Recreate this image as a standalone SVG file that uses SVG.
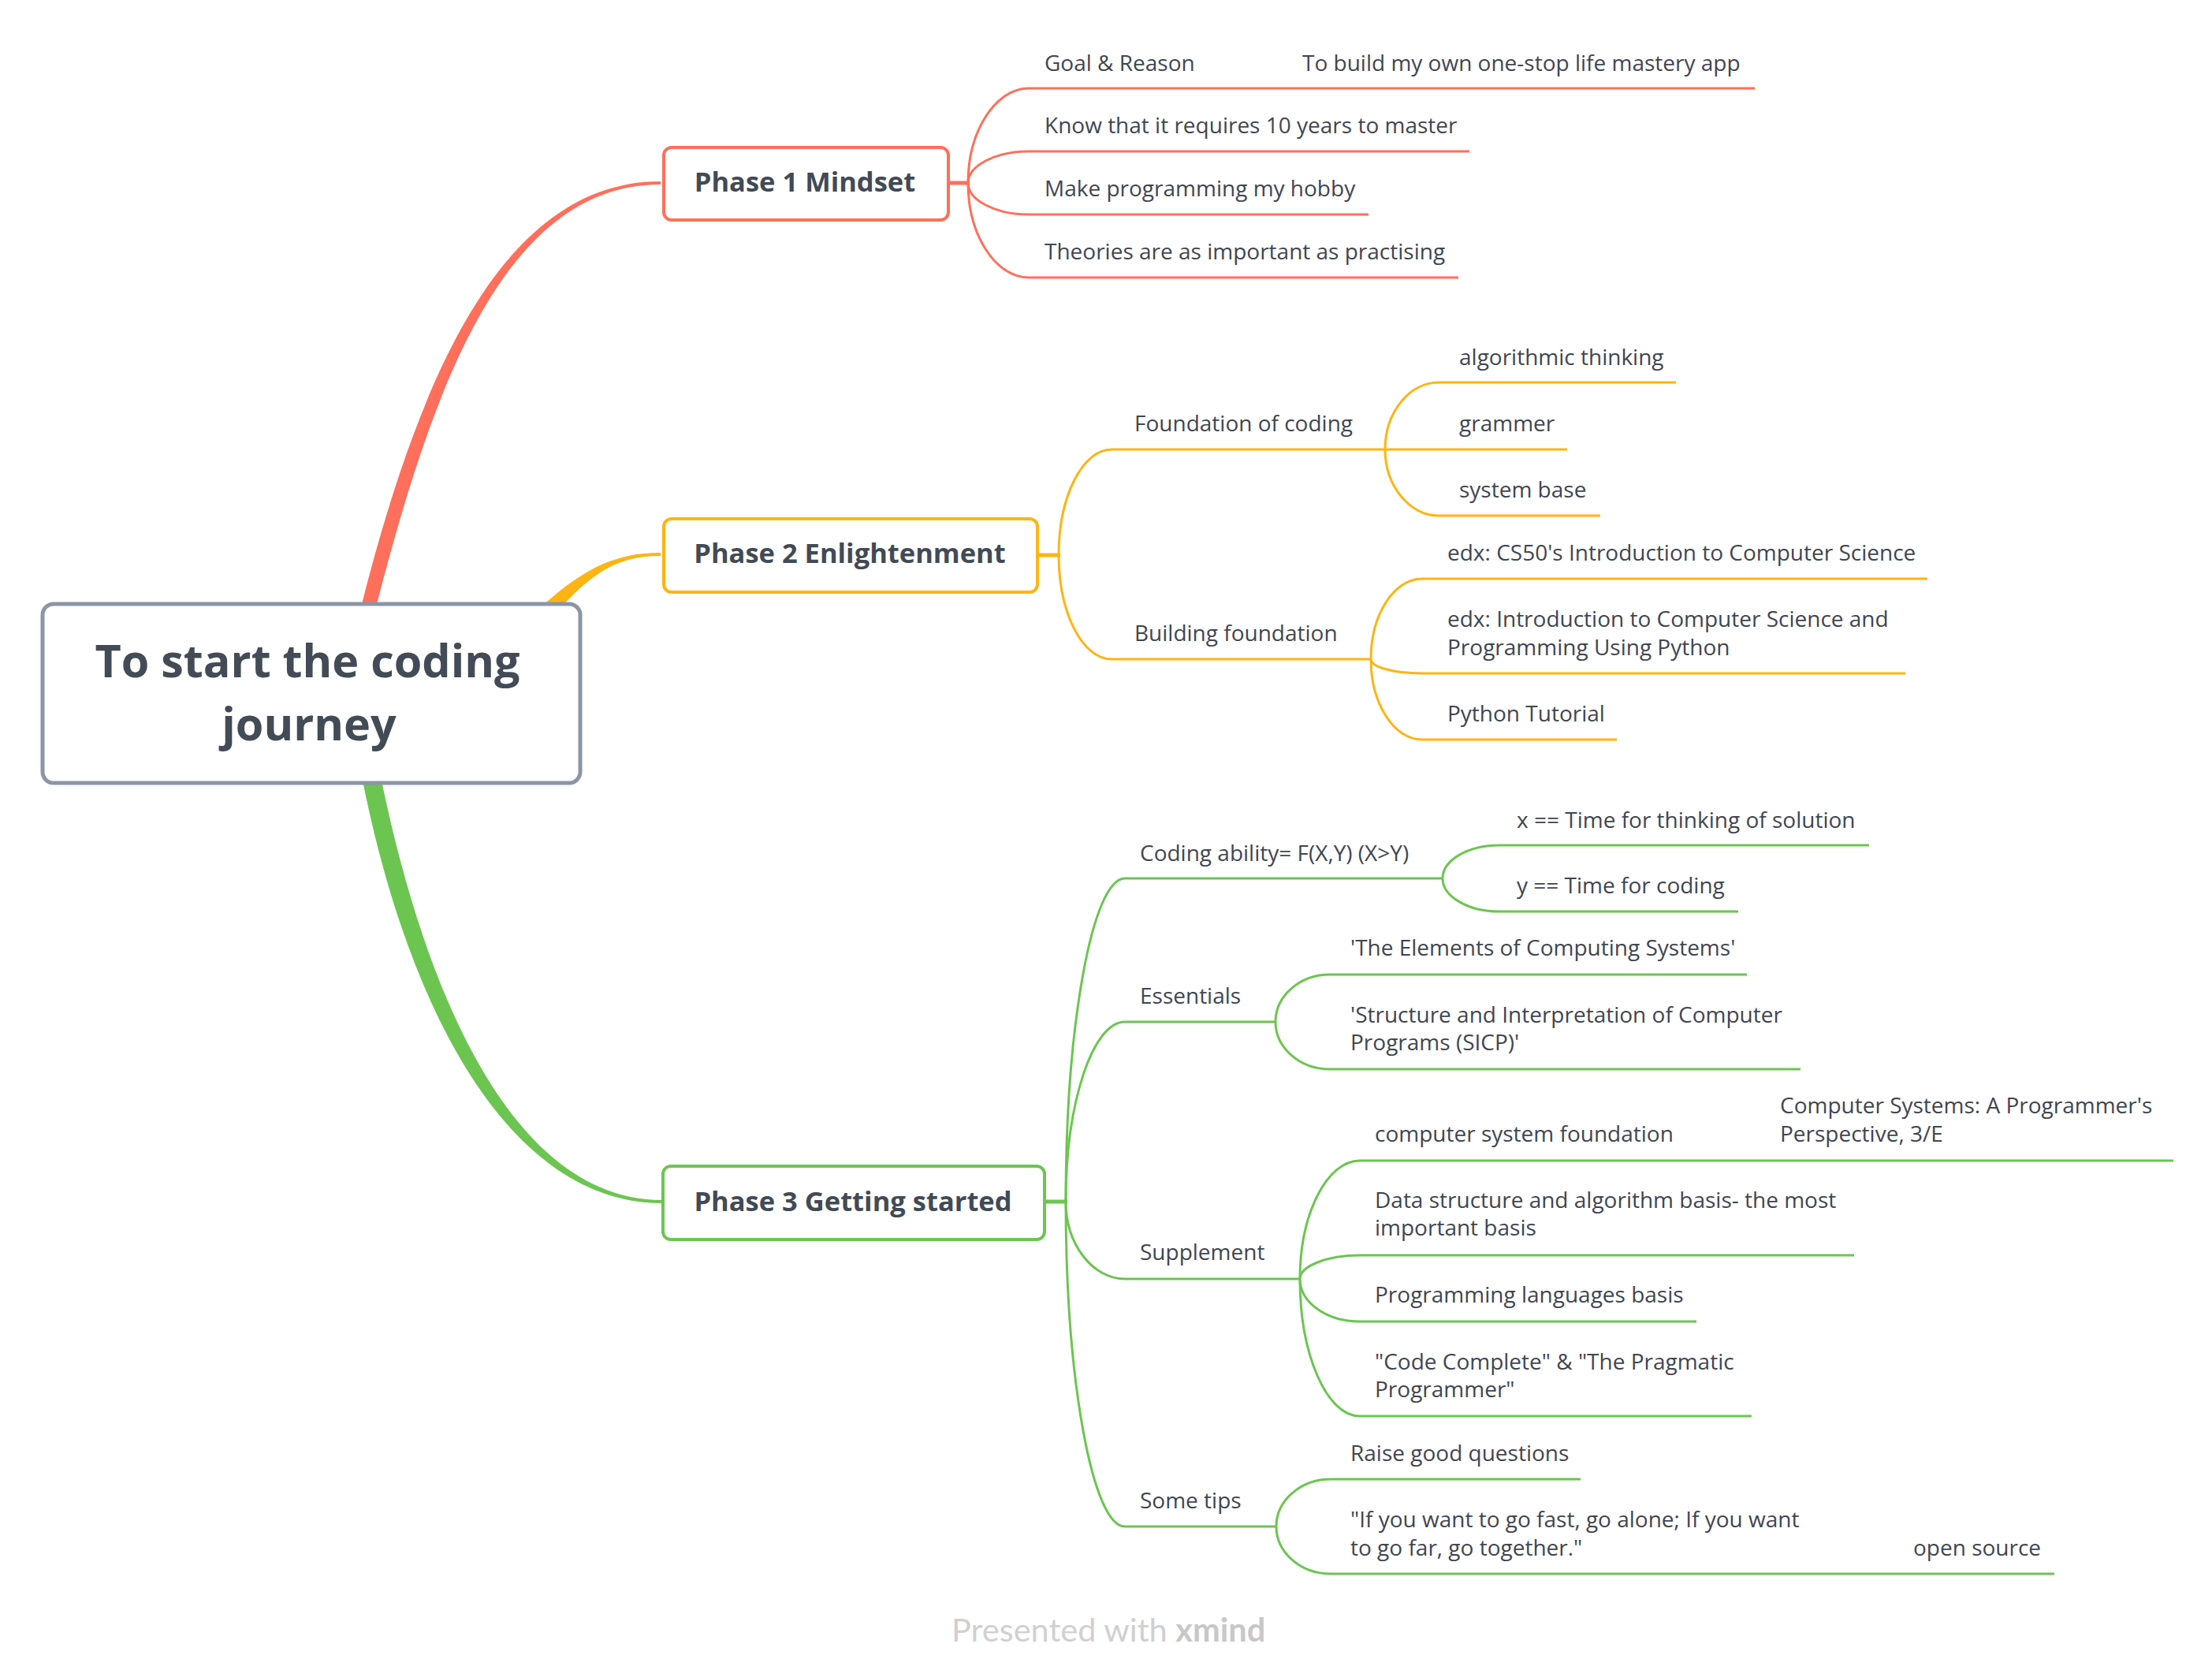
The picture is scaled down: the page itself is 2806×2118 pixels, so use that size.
<svg xmlns="http://www.w3.org/2000/svg" width="2806" height="2118" viewBox="0 0 2806 2118">
<style>
.t{font-family:"Open Sans","Liberation Sans",sans-serif;font-size:28px;fill:#3f4652}
.p{font-family:"Open Sans","Liberation Sans",sans-serif;font-size:34.5px;font-weight:700;fill:#424a55;text-anchor:middle}
.c{font-family:"Open Sans","Liberation Sans",sans-serif;font-size:57.5px;font-weight:700;fill:#434b56;text-anchor:middle}
.r{stroke:#FF6F5B;fill:none;stroke-width:3}
.o{stroke:#FFB411;fill:none;stroke-width:3}
.g{stroke:#6CC551;fill:none;stroke-width:3}
.stub{stroke-width:5}
.box{fill:#ffffff;stroke-width:4}
</style>
<rect width="2806" height="2118" fill="#ffffff"/>
<g id="connectors">
  <path d="M458 770 C531 482 636 230 838 230 L838 234 C642 234 550 486 477 770 Z" fill="#FF6F5B"/>
  <path d="M684 772 C738 722 780 701 838 701 L838 705 C784 705 752 726 710 772 Z" fill="#FFB411"/>
  <path d="M460 990 C520 1290 650 1526 840 1526 L840 1522 C660 1522 545 1284 484 990 Z" fill="#6CC551"/>
  <path class="r stub" d="M1203 232 H1230"/>
  <path class="r" d="M1228 232 C1228 166 1263 112 1305 112 H2226"/>
  <path class="r" d="M1228 232 C1228 210 1263 192 1305 192 H1864"/>
  <path class="r" d="M1228 232 C1228 254 1263 272 1305 272 H1736"/>
  <path class="r" d="M1228 232 C1228 298 1263 352 1305 352 H1850"/>
  <path class="o stub" d="M1316 704 H1345"/>
  <path class="o" d="M1343 704 C1343 630 1373 570 1410 570 H1757"/>
  <path class="o" d="M1343 704 C1343 777 1373 836 1410 836 H1739"/>
  <path class="o" d="M1757 570 C1757 523 1788 485 1825 485 H2126"/>
  <path class="o" d="M1757 570 H1988"/>
  <path class="o" d="M1757 570 C1757 616 1788 654 1825 654 H2030"/>
  <path class="o" d="M1739 836 C1739 780 1768 734 1804 734 H2445"/>
  <path class="o" d="M1739 836 C1739 846 1768 854 1804 854 H2417"/>
  <path class="o" d="M1739 836 C1739 892 1768 938 1804 938 H2051"/>
  <path class="g stub" d="M1325 1524 H1354"/>
  <path class="g" d="M1352 1524 C1352 1298 1386 1114 1427 1114 H1830"/>
  <path class="g" d="M1352 1524 C1352 1399 1386 1296 1427 1296 H1618"/>
  <path class="g" d="M1352 1524 C1352 1578 1386 1622 1427 1622 H1649"/>
  <path class="g" d="M1352 1524 C1352 1751 1386 1936 1427 1936 H1619"/>
  <path class="g" d="M1830 1114 C1830 1091 1862 1072 1902 1072 H2371"/>
  <path class="g" d="M1830 1114 C1830 1137 1862 1156 1902 1156 H2205"/>
  <path class="g" d="M1618 1296 C1618 1263 1649 1236 1687 1236 H2216"/>
  <path class="g" d="M1618 1296 C1618 1329 1649 1356 1687 1356 H2284"/>
  <path class="g" d="M1649 1622 C1649 1540 1683 1472 1725 1472 H2757"/>
  <path class="g" d="M1649 1622 C1649 1606 1683 1592 1725 1592 H2352"/>
  <path class="g" d="M1649 1622 C1649 1652 1683 1676 1725 1676 H2152"/>
  <path class="g" d="M1649 1622 C1649 1718 1683 1796 1725 1796 H2222"/>
  <path class="g" d="M1619 1936 C1619 1903 1650 1876 1688 1876 H2005"/>
  <path class="g" d="M1619 1936 C1619 1969 1650 1996 1688 1996 H2606"/>
</g>
<g id="central">
  <rect x="54" y="766" width="682" height="227" rx="14" fill="#ffffff" stroke="#8A95A6" stroke-width="5"/>
  <text class="c" x="390" y="859">To start the coding</text>
  <text class="c" x="392" y="939">journey</text>
</g>
<g id="phase1">
  <rect class="box" x="842" y="187" width="361" height="92" rx="10" stroke="#FF6F5B"/>
  <text class="p" x="1021" y="243">Phase 1 Mindset</text>
</g>
<g id="p1-goal"><text class="t" x="1325" y="90">Goal &amp; Reason</text></g>
<g id="p1-goal-app"><text class="t" x="1652" y="90">To build my own one-stop life mastery app</text></g>
<g id="p1-know"><text class="t" x="1325" y="169">Know that it requires 10 years to master</text></g>
<g id="p1-hobby"><text class="t" x="1325" y="249">Make programming my hobby</text></g>
<g id="p1-theory"><text class="t" x="1325" y="329">Theories are as important as practising</text></g>
<g id="phase2">
  <rect class="box" x="842" y="658" width="474" height="93" rx="10" stroke="#FFB411"/>
  <text class="p" x="1078" y="714">Phase 2 Enlightenment</text>
</g>
<g id="p2-foundation"><text class="t" x="1439" y="547">Foundation of coding</text></g>
<g id="p2-algo"><text class="t" x="1851" y="463">algorithmic thinking</text></g>
<g id="p2-grammer"><text class="t" x="1851" y="547">grammer</text></g>
<g id="p2-system"><text class="t" x="1851" y="631">system base</text></g>
<g id="p2-building"><text class="t" x="1439" y="813">Building foundation</text></g>
<g id="p2-cs50"><text class="t" x="1836" y="711">edx: CS50's Introduction to Computer Science</text></g>
<g id="p2-edx"><text class="t" x="1836" y="795">edx: Introduction to Computer Science and</text><text class="t" x="1836" y="831">Programming Using Python</text></g>
<g id="p2-python"><text class="t" x="1836" y="915">Python Tutorial</text></g>
<g id="phase3">
  <rect class="box" x="841" y="1479" width="484" height="93" rx="10" stroke="#6CC551"/>
  <text class="p" x="1082" y="1536">Phase 3 Getting started</text>
</g>
<g id="p3-coding"><text class="t" x="1446" y="1092">Coding ability= F(X,Y) (X&gt;Y)</text></g>
<g id="p3-x"><text class="t" x="1924" y="1050">x == Time for thinking of solution</text></g>
<g id="p3-y"><text class="t" x="1924" y="1133">y == Time for coding</text></g>
<g id="p3-essentials"><text class="t" x="1446" y="1273">Essentials</text></g>
<g id="p3-elements"><text class="t" x="1713" y="1212">'The Elements of Computing Systems'</text></g>
<g id="p3-sicp"><text class="t" x="1713" y="1297">'Structure and Interpretation of Computer</text><text class="t" x="1713" y="1332">Programs (SICP)'</text></g>
<g id="p3-supplement"><text class="t" x="1446" y="1598">Supplement</text></g>
<g id="p3-compsys"><text class="t" x="1744" y="1448">computer system foundation</text></g>
<g id="p3-csapp"><text class="t" x="2258" y="1412">Computer Systems: A Programmer's</text><text class="t" x="2258" y="1448">Perspective, 3/E</text></g>
<g id="p3-data"><text class="t" x="1744" y="1532">Data structure and algorithm basis- the most</text><text class="t" x="1744" y="1567">important basis</text></g>
<g id="p3-lang"><text class="t" x="1744" y="1652">Programming languages basis</text></g>
<g id="p3-code"><text class="t" x="1744" y="1737">"Code Complete" &amp; "The Pragmatic</text><text class="t" x="1744" y="1772">Programmer"</text></g>
<g id="p3-tips"><text class="t" x="1446" y="1913">Some tips</text></g>
<g id="p3-raise"><text class="t" x="1713" y="1853">Raise good questions</text></g>
<g id="p3-fast"><text class="t" x="1713" y="1937">"If you want to go fast, go alone; If you want</text><text class="t" x="1713" y="1973">to go far, go together."</text></g>
<g id="p3-open"><text class="t" x="2427" y="1973">open source</text></g>
<text x="1207" y="2082" font-family="Lato, Open Sans, Liberation Sans, sans-serif" font-size="41.5" fill="#d0d0d0">Presented with <tspan font-weight="700" fill="#c8c8c8">xmind</tspan></text>
</svg>
